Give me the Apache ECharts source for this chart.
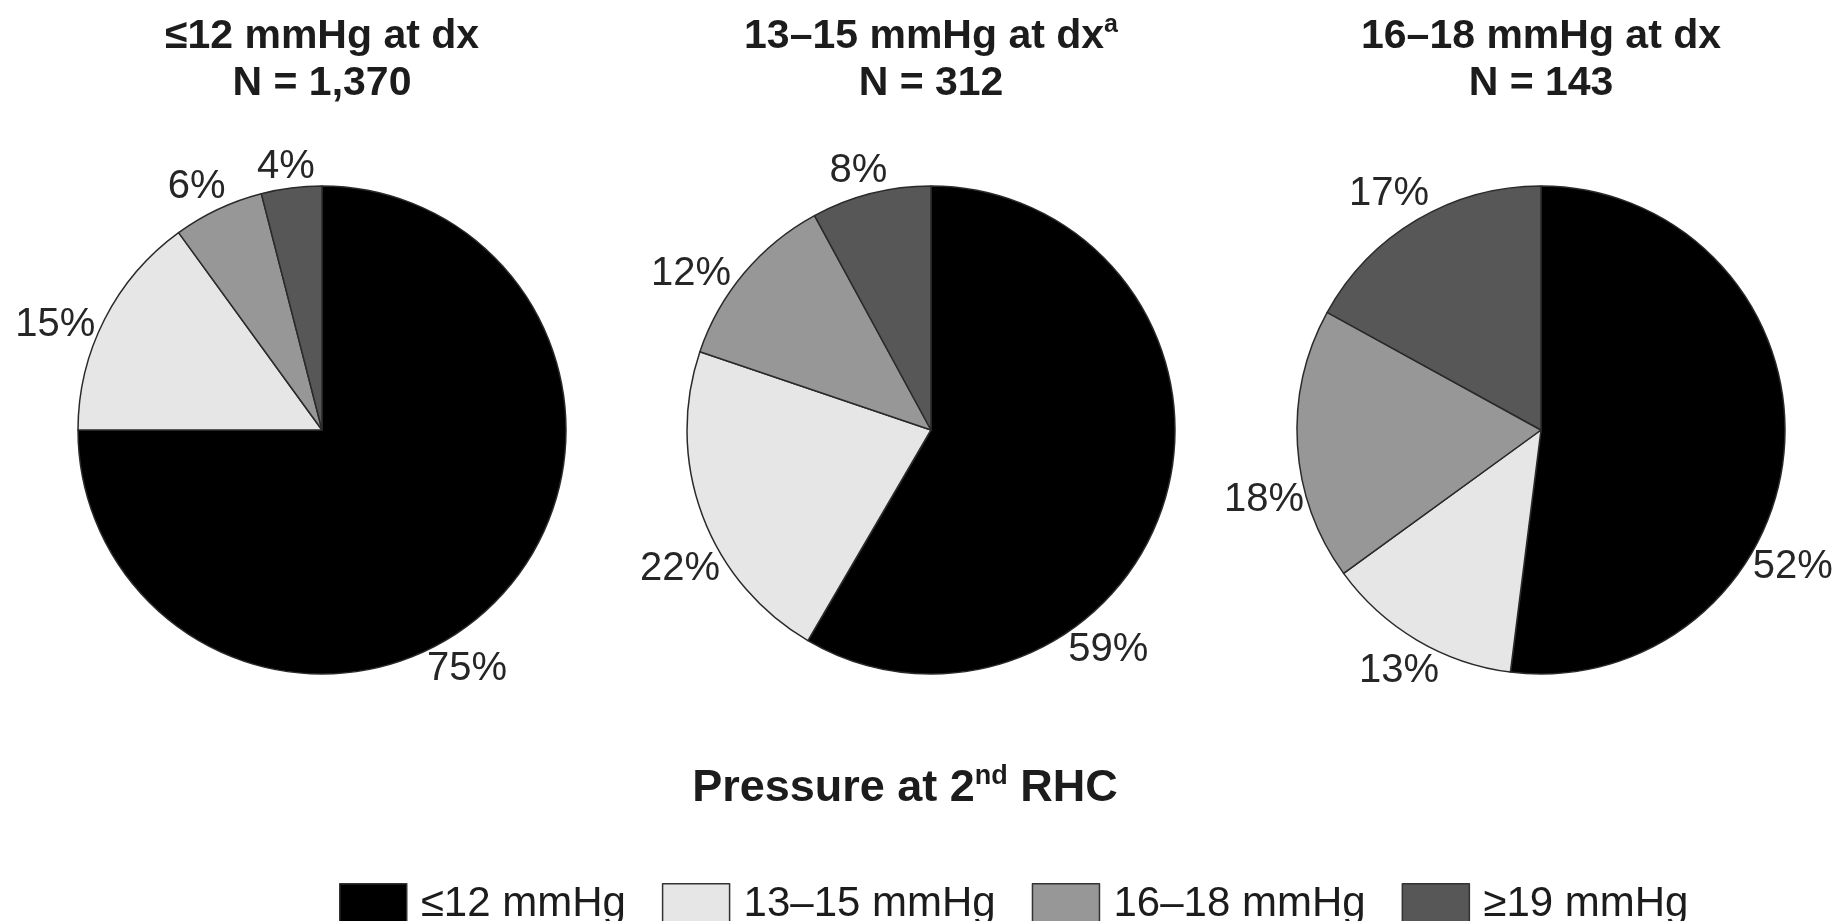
<!DOCTYPE html>
<html>
<head>
<meta charset="utf-8">
<script src="https://cdn.jsdelivr.net/npm/echarts@6/dist/echarts.min.js"></script>
<style>
  html, body { margin: 0; padding: 0; background: #ffffff; }
  #chart { width: 1840px; height: 921px; }
</style>
</head>
<body>
<div id="chart"></div>
<script>
// Pressure groups at the second right heart catheterisation
const groups = ['≤12 mmHg', '13–15 mmHg', '16–18 mmHg', '≥19 mmHg'];

// One panel per pressure group at diagnosis
const panelTitles = ['≤12 mmHg at dx', '13–15 mmHg at dx', '16–18 mmHg at dx'];
const panelNotes = ['', 'a', ''];          // superscript footnote marks
const panelN = ['1,370', '312', '143'];

// Percent of patients in each 2nd-RHC group (order follows `groups`)
const share12 = [75, 15, 6, 4];
const share1315 = [59, 22, 12, 8];
const share1618 = [52, 13, 18, 17];
const panels = [share12, share1315, share1618];

const axisTitle = ['Pressure at 2', 'nd', ' RHC'];

// ---- styling / layout ----
const colors = ['#000000', '#e6e6e6', '#979797', '#575757'];
const FONT = '"Liberation Sans", Arial, Helvetica, sans-serif';
const TEXT = '#1c1c1c';
const centers = [[322, 430], [931, 430], [1541, 430]];
const R = 244;
// clockwise angular nudge (deg) of each percent label away from its slice's mid-angle
const labelShift = [[13.8, -5.5, -2.1, -0.6], [36, -8.4, -7, -1.4], [25, -0.1, -10.6, -2.2]];
const LABEL_GAP = -2;

// Percent labels sit just outside the rim, their box touching the circle
function placeLabels(si, values) {
  const total = values.reduce((a, b) => a + b, 0);
  const mids = [];
  let acc = 0;
  values.forEach(v => { mids.push((acc + v / 2) / total * 360); acc += v; });
  return function (p) {
    const i = p.dataIndex;
    const a = (mids[i] + labelShift[si][i]) * Math.PI / 180;
    const ux = Math.sin(a), uy = -Math.cos(a);
    const w = p.labelRect.width, h = p.labelRect.height;
    const d = R + LABEL_GAP + (w / 2) * Math.abs(ux) + (h / 2) * Math.abs(uy);
    return {
      x: centers[si][0] + d * ux,
      y: centers[si][1] + d * uy,
      align: 'center',
      verticalAlign: 'middle'
    };
  };
}

const titleRich = {
  h: { fontSize: 41, fontWeight: 'bold', fontFamily: FONT, lineHeight: 47, fill: TEXT, color: TEXT },
  sup: { fontSize: 25, fontWeight: 'bold', fontFamily: FONT, lineHeight: 25, verticalAlign: 'top', fill: TEXT, color: TEXT }
};

const graphics = panelTitles.map((t, i) => ({
  type: 'text',
  x: centers[i][0],
  y: 13,
  silent: true,
  style: {
    text: '{h|' + t + '}' + (panelNotes[i] ? '{sup|' + panelNotes[i] + '}' : '') + '\n{h|N = ' + panelN[i] + '}',
    rich: titleRich,
    align: 'center',
    verticalAlign: 'top'
  }
}));

graphics.push({
  type: 'text',
  x: 905,
  y: 789,
  silent: true,
  style: {
    text: '{b|' + axisTitle[0] + '}{s|' + axisTitle[1] + '}{b|' + axisTitle[2] + '}',
    rich: {
      b: { fontSize: 45, fontWeight: 'bold', fontFamily: FONT, lineHeight: 52, fill: TEXT, color: TEXT },
      s: { fontSize: 27, fontWeight: 'bold', fontFamily: FONT, lineHeight: 27, verticalAlign: 'top', fill: TEXT, color: TEXT }
    },
    align: 'center',
    verticalAlign: 'middle'
  }
});

const chart = echarts.init(document.getElementById('chart'), null, { renderer: 'canvas' });

chart.setOption({
  backgroundColor: '#ffffff',
  animation: false,
  textStyle: { fontFamily: FONT },
  graphic: graphics,
  legend: {
    data: groups,
    selectedMode: false,
    orient: 'horizontal',
    left: 334,
    top: 878,
    icon: 'rect',
    itemWidth: 67,
    itemHeight: 41,
    itemGap: 36,
    itemStyle: { borderColor: '#333333', borderWidth: 1.5 },
    textStyle: { fontSize: 42, fontFamily: FONT, color: TEXT, lineHeight: 41, padding: [0, 0, 0, 9] }
  },
  series: panels.map((vals, si) => ({
    type: 'pie',
    center: centers[si],
    radius: R,
    startAngle: 90,
    clockwise: true,
    avoidLabelOverlap: false,
    silent: true,
    itemStyle: { borderColor: '#2a2a2a', borderWidth: 1.5 },
    label: {
      show: true,
      position: 'outside',
      formatter: '{c}%',
      fontSize: 40,
      lineHeight: 40,
      fontFamily: FONT,
      color: '#262626'
    },
    labelLine: { show: false },
    labelLayout: placeLabels(si, vals),
    data: vals.map((v, i) => ({ name: groups[i], value: v, itemStyle: { color: colors[i] } }))
  }))
});
</script>
</body>
</html>
